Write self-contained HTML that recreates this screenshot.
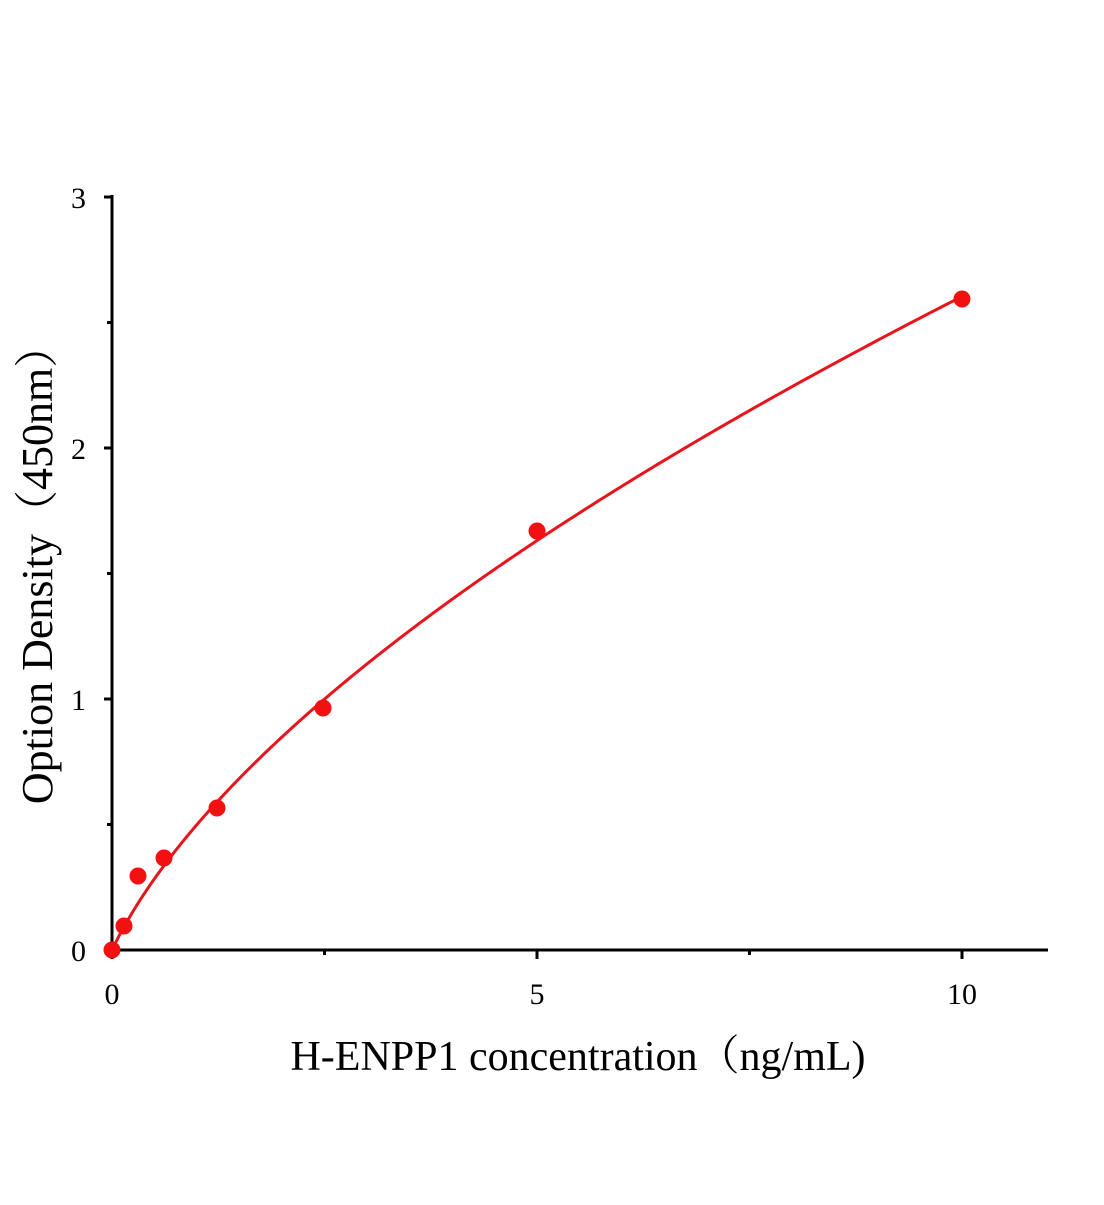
<!DOCTYPE html>
<html><head><meta charset="utf-8"><style>
body{margin:0;background:#fff}
text{font-family:"Liberation Serif","Noto Serif CJK SC",serif;fill:#000}
</style></head><body>
<svg id="s" width="1104" height="1200" xmlns="http://www.w3.org/2000/svg">
<g stroke="#000" stroke-width="3" fill="none">
<line x1="112" y1="195" x2="112" y2="952"/>
<line x1="110" y1="950" x2="1048" y2="950"/>
<line x1="104" y1="197" x2="112" y2="197"/>
<line x1="104" y1="448" x2="112" y2="448"/>
<line x1="104" y1="699" x2="112" y2="699"/>
<line x1="104" y1="950" x2="112" y2="950"/>
<line x1="107" y1="322.5" x2="112" y2="322.5"/>
<line x1="107" y1="573.5" x2="112" y2="573.5"/>
<line x1="107" y1="824.5" x2="112" y2="824.5"/>
<line x1="112" y1="950" x2="112" y2="959"/>
<line x1="537" y1="950" x2="537" y2="959"/>
<line x1="962" y1="950" x2="962" y2="959"/>
<line x1="324.5" y1="950" x2="324.5" y2="955"/>
<line x1="749.5" y1="950" x2="749.5" y2="955"/>
</g>
<g font-size="30" text-anchor="end">
<text x="86" y="208">3</text><text x="86" y="459">2</text><text x="86" y="710">1</text><text x="86" y="961">0</text>
</g>
<g font-size="30" text-anchor="middle">
<text x="112" y="1004">0</text><text x="537" y="1004">5</text><text x="962" y="1004">10</text>
</g>
<text x="578" y="1070" font-size="42" text-anchor="middle">H-ENPP1 concentration（ng/mL)</text>
<text transform="translate(52,564) rotate(-90)" font-size="44" text-anchor="middle">Option Density（450nm）</text>
<path id="c" fill="none" stroke="#e8141c" stroke-width="3"/>
<g fill="#f21010">
<circle cx="112" cy="950" r="8.5"/><circle cx="124" cy="926" r="8.5"/><circle cx="138" cy="876" r="8.5"/>
<circle cx="164" cy="858" r="8.5"/><circle cx="217" cy="808" r="8.5"/><circle cx="323" cy="708" r="8.5"/>
<circle cx="537" cy="531" r="8.5"/><circle cx="962" cy="299" r="8.5"/>
</g>
</svg>
<script>
var s="";
for(var i=0;i<=400;i++){var x=10*Math.pow(i/400,2);var y=0.73*(Math.pow(x+0.3,0.6)-Math.pow(0.3,0.6));
s+=(i?"L":"M")+(112+85*x).toFixed(2)+","+(950-251*y).toFixed(2);}
document.getElementById("c").setAttribute("d",s);
</script>
</body></html>
